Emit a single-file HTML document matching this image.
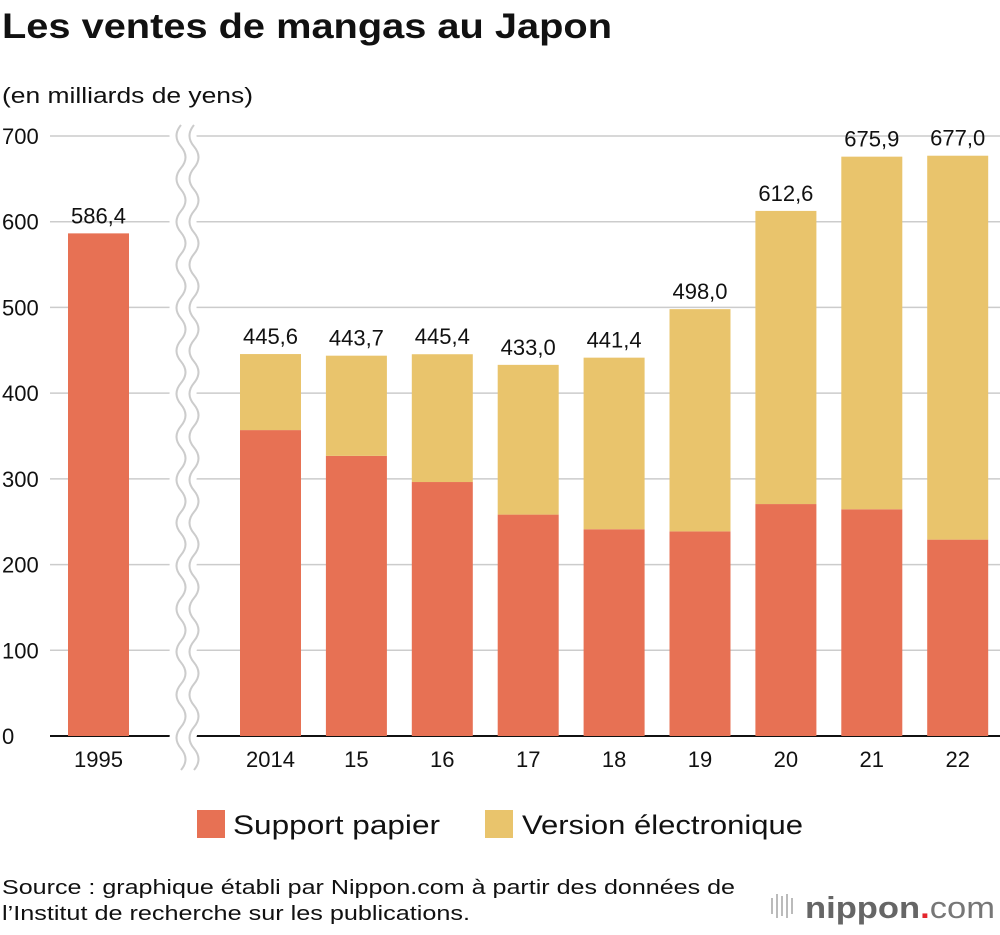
<!DOCTYPE html>
<html><head><meta charset="utf-8"><style>
body{margin:0;background:#fff;font-family:"Liberation Sans",sans-serif}
svg text{font-family:"Liberation Sans",sans-serif}
</style></head><body>
<svg id="c" width="1000" height="930" xmlns="http://www.w3.org/2000/svg">
<text x="2" y="38" font-size="35" font-weight="bold" fill="#111" textLength="610" lengthAdjust="spacingAndGlyphs">Les ventes de mangas au Japon</text>
<text x="2" y="103" font-size="22" fill="#111" textLength="251" lengthAdjust="spacingAndGlyphs">(en milliards de yens)</text>
<g id="grid"></g><g id="bars"></g>
<g id="brk"></g>
<g>
<rect x="197" y="810" width="28" height="28" fill="#e77154"/>
<text x="233" y="834" font-size="27" fill="#111" textLength="207" lengthAdjust="spacingAndGlyphs">Support papier</text>
<rect x="485" y="810" width="28" height="28" fill="#e9c46c"/>
<text x="522" y="834" font-size="27" fill="#111" textLength="281" lengthAdjust="spacingAndGlyphs">Version électronique</text>
</g>
<text x="2" y="894" font-size="20" fill="#111" textLength="733" lengthAdjust="spacingAndGlyphs">Source : graphique établi par Nippon.com à partir des données de</text>
<text x="2" y="920" font-size="20" fill="#111" textLength="468" lengthAdjust="spacingAndGlyphs">l’Institut de recherche sur les publications.</text>
<g>
<g stroke="#bbb" stroke-width="2"><line x1="772" y1="898" x2="772" y2="914"/><line x1="777" y1="894" x2="777" y2="918"/><line x1="782" y1="896" x2="782" y2="916"/><line x1="787" y1="894" x2="787" y2="918"/><line x1="792" y1="898" x2="792" y2="914"/></g>
<text x="805" y="918" font-size="31" font-weight="bold" fill="#666" textLength="190" lengthAdjust="spacingAndGlyphs">nippon<tspan fill="#e4262d">.</tspan><tspan font-weight="normal" fill="#777">com</tspan></text>
</g>
</svg>
<script>
const categories=["1995","2014","15","16","17","18","19","20","21","22"];
const paper=[586.4,356.9,326.8,296.3,258.3,241.2,238.7,270.6,264.5,229.1];
const digital=[0,88.7,116.9,149.1,174.7,200.2,259.3,342.0,411.4,447.9];
const totals=["586,4","445,6","443,7","445,4","433,0","441,4","498,0","612,6","675,9","677,0"];
const yTicks=[0,100,200,300,400,500,600,700];
const NS="http://www.w3.org/2000/svg";
function y(v){return 736-v*600/700;}
function x(i){return i===0?68:240+(i-1)*85.9;}
const BW=61;
function mk(t,a,p){const e=document.createElementNS(NS,t);for(const k in a)e.setAttribute(k,a[k]);p.appendChild(e);return e;}
const g=document.getElementById('grid');
yTicks.forEach(t=>{
 if(t>0){const l=mk('line',{x1:50,x2:1000,y1:y(t),y2:y(t),stroke:'#ccc','stroke-width':1.5},g);
 
 }
 const tx=mk('text',{x:2,y:y(t)+8,'font-size':22,fill:'#111'},g);tx.textContent=t;
 
 
});
const base=mk('line',{x1:50,x2:1000,y1:736,y2:736,stroke:'#111','stroke-width':2},g);


const b=document.getElementById('bars');
categories.forEach((c,i)=>{
 const p=mk('rect',{x:x(i),y:y(paper[i]),width:BW,height:736-y(paper[i]),fill:'#e77154'},b);
 
 
 if(digital[i]>0){const d=mk('rect',{x:x(i),y:y(paper[i]+digital[i]),width:BW,height:y(paper[i])-y(paper[i]+digital[i]),fill:'#e9c46c'},b);
 
 }
 const tv=mk('text',{x:x(i)+BW/2,y:y(paper[i]+digital[i])-10,'font-size':22,fill:'#111','text-anchor':'middle'},b);tv.textContent=totals[i];
 
 
 const tl=mk('text',{x:x(i)+BW/2,y:767,'font-size':22,fill:'#111','text-anchor':'middle'},b);tl.textContent=c;
 
 
});
const br=document.getElementById('brk');
function wave(cx){let d='M'+cx+' 125';for(let yy=125;yy+43<=776;yy+=43){d+=' q-9 10.75 0 21.5 q9 10.75 0 21.5';}return d;}
mk('rect',{x:181,y:125,width:13,height:645,fill:'#fff'},br);
mk('path',{d:wave(181),fill:'none',stroke:'#fff','stroke-width':14},br);
mk('path',{d:wave(181),fill:'none',stroke:'#fff','stroke-width':14,transform:'translate(13,0)'},br);
mk('path',{d:wave(181),fill:'none',stroke:'#ccc','stroke-width':2},br);
mk('path',{d:wave(181),fill:'none',stroke:'#ccc','stroke-width':2,transform:'translate(13,0)'},br);
</script>
</body></html>
